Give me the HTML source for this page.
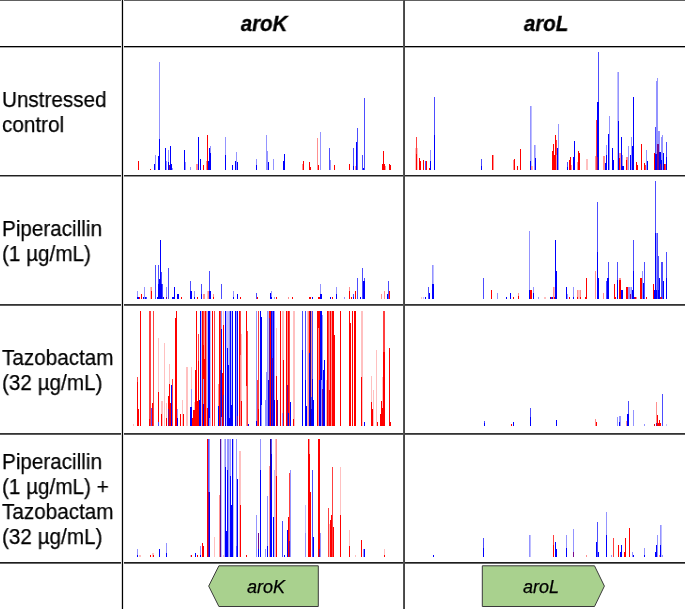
<!DOCTYPE html>
<html><head><meta charset="utf-8">
<style>
html,body{margin:0;padding:0;background:#fff;}
body{width:685px;height:609px;position:relative;overflow:hidden;font-family:"Liberation Sans",sans-serif;}
.h{position:absolute;left:0;width:685px;background:#000;}
.v{position:absolute;width:1px;background:#000;}
.lab{position:absolute;left:2px;font-size:22px;line-height:25px;transform:scaleX(0.94);transform-origin:0 0;color:#000;will-change:transform;-webkit-text-stroke:0.25px #000;white-space:nowrap;}
.hd{position:absolute;top:12px;font-size:22px;will-change:transform;transform:scaleX(0.93);-webkit-text-stroke:0.35px #000;font-weight:bold;font-style:italic;text-align:center;line-height:24px;}
svg{position:absolute;}
</style></head><body>
<!-- grid lines -->
<div class="h" style="top:0;height:1px;background:#606060"></div>
<div class="h" style="top:46px;height:1px;"></div>
<div class="h" style="top:47px;height:1px;background:#a8a8a8"></div>
<div class="h" style="top:175px;height:1px;background:#202020"></div>
<div class="h" style="top:176px;height:1px;background:#959595"></div>
<div class="h" style="top:304px;height:1px;background:#333"></div>
<div class="h" style="top:305px;height:1px;background:#5c5c5c"></div>
<div class="h" style="top:433px;height:1px;background:#333"></div>
<div class="h" style="top:434px;height:1px;background:#5c5c5c"></div>
<div class="h" style="top:562px;height:1px;background:#1e1e1e"></div>
<div class="h" style="top:563px;height:1px;background:#666"></div>
<div class="v" style="left:121px;top:0;height:609px;background:#d4d4d4"></div>
<div class="v" style="left:123px;top:0;height:609px;background:#e4e4e4"></div>
<div class="v" style="left:122px;top:0;height:609px;"></div>
<div class="v" style="left:403px;top:0;height:609px;background:#525252"></div>
<div class="v" style="left:404px;top:0;height:609px;background:#464646"></div>

<div class="hd" style="left:124px;width:280px;">aroK</div>
<div class="hd" style="left:406px;width:280px;">aroL</div>

<div class="lab" style="top:87px;">Unstressed<br>control</div>
<div class="lab" style="top:216px;">Piperacillin<br>(1 µg/mL)</div>
<div class="lab" style="top:345px;">Tazobactam<br>(32 µg/mL)</div>
<div class="lab" style="top:449px;">Piperacillin<br>(1 µg/mL) +<br>Tazobactam<br>(32 µg/mL)</div>

<svg style="left:0;top:0" width="685" height="609" shape-rendering="crispEdges">
<!-- r1k -->
<rect x="138" y="161" width="1" height="9" fill="#ff0000"/>
<rect x="150" y="169" width="1" height="1" fill="#ff0000"/>
<rect x="154" y="164" width="1" height="6" fill="#0000ff"/>
<rect x="155" y="155" width="1" height="15" fill="#9494ff"/>
<rect x="159" y="62" width="1" height="108" fill="#9494ff"/>
<rect x="158" y="156" width="1" height="14" fill="#0000ff"/>
<rect x="159" y="139" width="1" height="31" fill="#0000ff"/>
<rect x="165" y="148" width="1" height="22" fill="#0000ff"/>
<rect x="166" y="161" width="1" height="9" fill="#9494ff"/>
<rect x="168" y="150" width="1" height="20" fill="#9494ff"/>
<rect x="168" y="162" width="1" height="8" fill="#0000ff"/>
<rect x="169" y="165" width="1" height="5" fill="#780a8c"/>
<rect x="170" y="146" width="1" height="24" fill="#0000ff"/>
<rect x="171" y="164" width="1" height="6" fill="#0000ff"/>
<rect x="172" y="168" width="1" height="2" fill="#9494ff"/>
<rect x="184" y="150" width="1" height="20" fill="#0000ff"/>
<rect x="185" y="162" width="1" height="8" fill="#9494ff"/>
<rect x="190" y="167" width="1" height="3" fill="#9494ff"/>
<rect x="196" y="164" width="1" height="6" fill="#ff9090"/>
<rect x="197" y="164" width="1" height="6" fill="#ff9090"/>
<rect x="198" y="137" width="1" height="33" fill="#0000ff"/>
<rect x="200" y="159" width="1" height="11" fill="#0000ff"/>
<rect x="203" y="165" width="1" height="5" fill="#ff0000"/>
<rect x="206" y="161" width="1" height="9" fill="#ff9090"/>
<rect x="207" y="135" width="1" height="35" fill="#ff0000"/>
<rect x="208" y="161" width="1" height="9" fill="#0000ff"/>
<rect x="209" y="148" width="1" height="22" fill="#0000ff"/>
<rect x="210" y="146" width="1" height="24" fill="#9494ff"/>
<rect x="210" y="153" width="1" height="17" fill="#0000ff"/>
<rect x="225" y="137" width="1" height="33" fill="#9494ff"/>
<rect x="225" y="155" width="1" height="15" fill="#0000ff"/>
<rect x="232" y="165" width="1" height="5" fill="#0000ff"/>
<rect x="235" y="161" width="1" height="9" fill="#0000ff"/>
<rect x="236" y="152" width="1" height="18" fill="#9494ff"/>
<rect x="237" y="162" width="1" height="8" fill="#0000ff"/>
<rect x="256" y="159" width="1" height="11" fill="#9494ff"/>
<rect x="256" y="165" width="1" height="5" fill="#0000ff"/>
<rect x="266" y="135" width="1" height="35" fill="#9494ff"/>
<rect x="267" y="151" width="1" height="19" fill="#9494ff"/>
<rect x="268" y="162" width="1" height="8" fill="#0000ff"/>
<rect x="273" y="159" width="1" height="11" fill="#9494ff"/>
<rect x="283" y="161" width="1" height="9" fill="#0000ff"/>
<rect x="284" y="154" width="1" height="16" fill="#0000ff"/>
<rect x="302" y="164" width="1" height="6" fill="#ff9090"/>
<rect x="303" y="161" width="1" height="9" fill="#ff0000"/>
<rect x="309" y="162" width="1" height="8" fill="#ff0000"/>
<rect x="310" y="167" width="1" height="3" fill="#ff0000"/>
<rect x="317" y="138" width="1" height="32" fill="#ff9090"/>
<rect x="318" y="165" width="1" height="5" fill="#ff0000"/>
<rect x="320" y="132" width="1" height="38" fill="#9494ff"/>
<rect x="329" y="148" width="1" height="22" fill="#4d4dff"/>
<rect x="330" y="160" width="1" height="10" fill="#9494ff"/>
<rect x="334" y="165" width="1" height="5" fill="#ff0000"/>
<rect x="349" y="164" width="1" height="6" fill="#ff0000"/>
<rect x="353" y="148" width="1" height="22" fill="#4d4dff"/>
<rect x="353" y="166" width="1" height="4" fill="#0000ff"/>
<rect x="355" y="166" width="1" height="4" fill="#ff9090"/>
<rect x="357" y="128" width="1" height="42" fill="#4d4dff"/>
<rect x="356" y="142" width="1" height="28" fill="#0000ff"/>
<rect x="362" y="155" width="1" height="15" fill="#4d4dff"/>
<rect x="363" y="168" width="1" height="2" fill="#0000ff"/>
<rect x="364" y="98" width="1" height="72" fill="#4d4dff"/>
<rect x="383" y="151" width="1" height="19" fill="#ff0000"/>
<rect x="382" y="164" width="1" height="6" fill="#ff0000"/>
<rect x="384" y="164" width="1" height="6" fill="#ff0000"/>
<rect x="385" y="166" width="1" height="4" fill="#ff9090"/>
<rect x="389" y="164" width="1" height="6" fill="#ff0000"/>
<rect x="390" y="165" width="1" height="5" fill="#ff0000"/>
<!-- r1L -->
<rect x="415" y="148" width="1" height="22" fill="#ffc0c0"/>
<rect x="417" y="148" width="1" height="22" fill="#ffc0c0"/>
<rect x="416" y="137" width="1" height="33" fill="#ff4040"/>
<rect x="416" y="154" width="1" height="16" fill="#ff0000"/>
<rect x="419" y="158" width="1" height="12" fill="#ff0000"/>
<rect x="420" y="161" width="1" height="9" fill="#ff0000"/>
<rect x="423" y="160" width="1" height="10" fill="#ff0000"/>
<rect x="425" y="161" width="1" height="9" fill="#4d4dff"/>
<rect x="426" y="161" width="1" height="9" fill="#ff0000"/>
<rect x="429" y="168" width="1" height="2" fill="#ff0000"/>
<rect x="430" y="150" width="1" height="20" fill="#9494ff"/>
<rect x="430" y="161" width="1" height="9" fill="#0000ff"/>
<rect x="434" y="97" width="1" height="73" fill="#4d4dff"/>
<rect x="434" y="135" width="1" height="35" fill="#0000ff"/>
<rect x="481" y="159" width="1" height="11" fill="#4d4dff"/>
<rect x="481" y="166" width="1" height="4" fill="#0000ff"/>
<rect x="492" y="155" width="1" height="15" fill="#ff0000"/>
<rect x="493" y="155" width="1" height="15" fill="#ff9090"/>
<rect x="513" y="160" width="1" height="10" fill="#ff9090"/>
<rect x="514" y="159" width="1" height="11" fill="#ff0000"/>
<rect x="517" y="166" width="1" height="4" fill="#ff0000"/>
<rect x="520" y="149" width="1" height="21" fill="#ff0000"/>
<rect x="530" y="106" width="1" height="64" fill="#9494ff"/>
<rect x="531" y="106" width="1" height="64" fill="#c0c0ff"/>
<rect x="530" y="161" width="1" height="9" fill="#0000ff"/>
<rect x="531" y="166" width="1" height="4" fill="#ff9090"/>
<rect x="532" y="166" width="1" height="4" fill="#ffc0c0"/>
<rect x="534" y="145" width="1" height="25" fill="#9494ff"/>
<rect x="535" y="145" width="1" height="25" fill="#c0c0ff"/>
<rect x="535" y="158" width="1" height="12" fill="#0000ff"/>
<rect x="552" y="151" width="1" height="19" fill="#ff0000"/>
<rect x="553" y="144" width="1" height="26" fill="#ff0000"/>
<rect x="554" y="155" width="1" height="15" fill="#ff0000"/>
<rect x="555" y="135" width="1" height="35" fill="#ff0000"/>
<rect x="556" y="140" width="1" height="30" fill="#ff4040"/>
<rect x="556" y="155" width="1" height="15" fill="#ff9090"/>
<rect x="558" y="124" width="1" height="46" fill="#9494ff"/>
<rect x="557" y="148" width="1" height="22" fill="#0000ff"/>
<rect x="567" y="162" width="1" height="8" fill="#4d4dff"/>
<rect x="567" y="167" width="1" height="3" fill="#0000ff"/>
<rect x="569" y="160" width="1" height="10" fill="#ff0000"/>
<rect x="570" y="157" width="1" height="13" fill="#ff0000"/>
<rect x="571" y="165" width="1" height="5" fill="#ff9090"/>
<rect x="574" y="141" width="1" height="29" fill="#0000ff"/>
<rect x="573" y="157" width="1" height="13" fill="#0000ff"/>
<rect x="577" y="162" width="1" height="8" fill="#ff9090"/>
<rect x="578" y="151" width="1" height="19" fill="#ff0000"/>
<rect x="579" y="153" width="1" height="17" fill="#ff0000"/>
<rect x="586" y="159" width="1" height="11" fill="#ffc0c0"/>
<rect x="587" y="159" width="1" height="11" fill="#ffc0c0"/>
<rect x="595" y="156" width="1" height="14" fill="#ff9090"/>
<rect x="596" y="120" width="1" height="50" fill="#ff4040"/>
<rect x="598" y="52" width="1" height="118" fill="#4d4dff"/>
<rect x="597" y="102" width="1" height="68" fill="#0000ff"/>
<rect x="598" y="102" width="1" height="68" fill="#0000ff"/>
<rect x="597" y="157" width="1" height="13" fill="#780a8c"/>
<rect x="603" y="156" width="1" height="14" fill="#ff9090"/>
<rect x="604" y="156" width="1" height="14" fill="#ff9090"/>
<rect x="605" y="163" width="1" height="7" fill="#0000ff"/>
<rect x="606" y="145" width="1" height="25" fill="#9494ff"/>
<rect x="606" y="155" width="1" height="15" fill="#0000ff"/>
<rect x="609" y="116" width="1" height="54" fill="#9494ff"/>
<rect x="608" y="134" width="1" height="36" fill="#0000ff"/>
<rect x="612" y="148" width="1" height="22" fill="#0000ff"/>
<rect x="613" y="160" width="1" height="10" fill="#0000ff"/>
<rect x="617" y="72" width="1" height="98" fill="#c0c0ff"/>
<rect x="618" y="72" width="1" height="98" fill="#9494ff"/>
<rect x="618" y="121" width="1" height="49" fill="#0000ff"/>
<rect x="619" y="153" width="1" height="17" fill="#ff9090"/>
<rect x="620" y="153" width="1" height="17" fill="#ff9090"/>
<rect x="619" y="158" width="1" height="12" fill="#ff0000"/>
<rect x="621" y="137" width="1" height="33" fill="#0000ff"/>
<rect x="622" y="155" width="1" height="15" fill="#9494ff"/>
<rect x="622" y="166" width="1" height="4" fill="#0000ff"/>
<rect x="623" y="166" width="1" height="4" fill="#0000ff"/>
<rect x="626" y="157" width="1" height="13" fill="#ff9090"/>
<rect x="627" y="157" width="1" height="13" fill="#ff9090"/>
<rect x="626" y="160" width="1" height="10" fill="#ff0000"/>
<rect x="628" y="146" width="1" height="24" fill="#9494ff"/>
<rect x="631" y="137" width="1" height="33" fill="#9494ff"/>
<rect x="630" y="155" width="1" height="15" fill="#0000ff"/>
<rect x="632" y="146" width="1" height="24" fill="#0000ff"/>
<rect x="633" y="97" width="1" height="73" fill="#0000ff"/>
<rect x="636" y="162" width="1" height="8" fill="#ff0000"/>
<rect x="637" y="165" width="1" height="5" fill="#ff0000"/>
<rect x="641" y="144" width="1" height="26" fill="#ff0000"/>
<rect x="644" y="163" width="1" height="7" fill="#ff0000"/>
<rect x="645" y="165" width="1" height="5" fill="#ff4040"/>
<rect x="646" y="150" width="1" height="20" fill="#9494ff"/>
<rect x="647" y="161" width="1" height="9" fill="#0000ff"/>
<rect x="654" y="153" width="1" height="17" fill="#ff0000"/>
<rect x="655" y="127" width="1" height="43" fill="#4d4dff"/>
<rect x="656" y="81" width="1" height="89" fill="#9494ff"/>
<rect x="657" y="78" width="1" height="92" fill="#9494ff"/>
<rect x="658" y="131" width="1" height="39" fill="#9494ff"/>
<rect x="655" y="154" width="1" height="16" fill="#0000ff"/>
<rect x="656" y="154" width="1" height="16" fill="#0000ff"/>
<rect x="657" y="144" width="1" height="26" fill="#780a8c"/>
<rect x="658" y="144" width="1" height="26" fill="#780a8c"/>
<rect x="659" y="131" width="1" height="39" fill="#9494ff"/>
<rect x="659" y="152" width="1" height="18" fill="#0000ff"/>
<rect x="660" y="152" width="1" height="18" fill="#0000ff"/>
<rect x="660" y="164" width="1" height="6" fill="#780a8c"/>
<rect x="661" y="137" width="1" height="33" fill="#9494ff"/>
<rect x="662" y="135" width="1" height="35" fill="#9494ff"/>
<rect x="661" y="160" width="1" height="10" fill="#0000ff"/>
<rect x="663" y="153" width="1" height="17" fill="#0000ff"/>
<rect x="664" y="164" width="1" height="6" fill="#ff0000"/>
<rect x="665" y="164" width="1" height="6" fill="#ff4040"/>
<rect x="666" y="142" width="1" height="28" fill="#4d4dff"/>
<rect x="666" y="157" width="1" height="13" fill="#0000ff"/>
<!-- r2k -->
<rect x="137" y="291" width="1" height="8" fill="#9494ff"/>
<rect x="137" y="297" width="1" height="2" fill="#0000ff"/>
<rect x="138" y="297" width="1" height="2" fill="#0000ff"/>
<rect x="139" y="297" width="1" height="2" fill="#ff0000"/>
<rect x="141" y="294" width="1" height="5" fill="#ff0000"/>
<rect x="144" y="287" width="1" height="12" fill="#9494ff"/>
<rect x="143" y="297" width="1" height="2" fill="#0000ff"/>
<rect x="145" y="297" width="1" height="2" fill="#0000ff"/>
<rect x="146" y="297" width="1" height="2" fill="#4d4dff"/>
<rect x="150" y="287" width="1" height="12" fill="#ffc0c0"/>
<rect x="151" y="287" width="1" height="12" fill="#ff9090"/>
<rect x="151" y="291" width="1" height="8" fill="#ff0000"/>
<rect x="155" y="265" width="1" height="34" fill="#4d4dff"/>
<rect x="158" y="265" width="1" height="34" fill="#4d4dff"/>
<rect x="160" y="240" width="1" height="59" fill="#0000ff"/>
<rect x="161" y="272" width="1" height="27" fill="#4d4dff"/>
<rect x="159" y="279" width="1" height="20" fill="#0000ff"/>
<rect x="158" y="284" width="1" height="15" fill="#0000ff"/>
<rect x="161" y="284" width="1" height="15" fill="#0000ff"/>
<rect x="162" y="284" width="1" height="15" fill="#4d4dff"/>
<rect x="157" y="297" width="1" height="2" fill="#0000ff"/>
<rect x="163" y="297" width="1" height="2" fill="#0000ff"/>
<rect x="166" y="287" width="1" height="12" fill="#9494ff"/>
<rect x="166" y="297" width="1" height="2" fill="#780a8c"/>
<rect x="168" y="268" width="1" height="31" fill="#4d4dff"/>
<rect x="172" y="297" width="1" height="2" fill="#0000ff"/>
<rect x="173" y="297" width="1" height="2" fill="#0000ff"/>
<rect x="174" y="287" width="1" height="12" fill="#0000ff"/>
<rect x="177" y="294" width="1" height="5" fill="#0000ff"/>
<rect x="178" y="294" width="1" height="5" fill="#0000ff"/>
<rect x="181" y="297" width="1" height="2" fill="#ff0000"/>
<rect x="190" y="281" width="1" height="18" fill="#4d4dff"/>
<rect x="190" y="291" width="1" height="8" fill="#0000ff"/>
<rect x="191" y="291" width="1" height="8" fill="#0000ff"/>
<rect x="194" y="291" width="1" height="8" fill="#9494ff"/>
<rect x="194" y="297" width="1" height="2" fill="#0000ff"/>
<rect x="197" y="297" width="1" height="2" fill="#ff0000"/>
<rect x="201" y="284" width="1" height="15" fill="#4d4dff"/>
<rect x="201" y="294" width="1" height="5" fill="#0000ff"/>
<rect x="203" y="294" width="1" height="5" fill="#ff9090"/>
<rect x="204" y="294" width="1" height="5" fill="#ff9090"/>
<rect x="207" y="291" width="1" height="8" fill="#ffc0c0"/>
<rect x="208" y="291" width="1" height="8" fill="#ff9090"/>
<rect x="209" y="271" width="1" height="28" fill="#4d4dff"/>
<rect x="209" y="291" width="1" height="8" fill="#0000ff"/>
<rect x="210" y="291" width="1" height="8" fill="#0000ff"/>
<rect x="213" y="294" width="1" height="5" fill="#ff9090"/>
<rect x="213" y="297" width="1" height="2" fill="#ff0000"/>
<rect x="221" y="284" width="1" height="15" fill="#4d4dff"/>
<rect x="233" y="291" width="1" height="8" fill="#9494ff"/>
<rect x="233" y="297" width="1" height="2" fill="#0000ff"/>
<rect x="237" y="294" width="1" height="5" fill="#0000ff"/>
<rect x="240" y="297" width="1" height="2" fill="#ff0000"/>
<rect x="256" y="293" width="1" height="6" fill="#4d4dff"/>
<rect x="257" y="297" width="1" height="2" fill="#ff0000"/>
<rect x="270" y="293" width="1" height="6" fill="#0000ff"/>
<rect x="271" y="291" width="1" height="8" fill="#9494ff"/>
<rect x="271" y="297" width="1" height="2" fill="#0000ff"/>
<rect x="274" y="297" width="1" height="2" fill="#9494ff"/>
<rect x="276" y="297" width="1" height="2" fill="#ff0000"/>
<rect x="288" y="297" width="1" height="2" fill="#ff9090"/>
<rect x="292" y="297" width="1" height="2" fill="#ff0000"/>
<rect x="309" y="297" width="1" height="2" fill="#ff0000"/>
<rect x="310" y="297" width="1" height="2" fill="#ff0000"/>
<rect x="312" y="297" width="1" height="2" fill="#0000ff"/>
<rect x="318" y="297" width="1" height="2" fill="#ff0000"/>
<rect x="319" y="297" width="1" height="2" fill="#ff0000"/>
<rect x="320" y="284" width="1" height="15" fill="#9494ff"/>
<rect x="320" y="294" width="1" height="5" fill="#0000ff"/>
<rect x="321" y="294" width="1" height="5" fill="#0000ff"/>
<rect x="330" y="297" width="1" height="2" fill="#0000ff"/>
<rect x="332" y="297" width="1" height="2" fill="#ff0000"/>
<rect x="336" y="287" width="1" height="12" fill="#9494ff"/>
<rect x="336" y="294" width="1" height="5" fill="#0000ff"/>
<rect x="344" y="297" width="1" height="2" fill="#9494ff"/>
<rect x="349" y="287" width="1" height="12" fill="#ff9090"/>
<rect x="349" y="291" width="1" height="8" fill="#ff0000"/>
<rect x="351" y="297" width="1" height="2" fill="#ff0000"/>
<rect x="353" y="294" width="1" height="5" fill="#4d4dff"/>
<rect x="353" y="297" width="1" height="2" fill="#0000ff"/>
<rect x="355" y="291" width="1" height="8" fill="#ff0000"/>
<rect x="357" y="278" width="1" height="21" fill="#4d4dff"/>
<rect x="360" y="297" width="1" height="2" fill="#0000ff"/>
<rect x="362" y="268" width="1" height="31" fill="#4d4dff"/>
<rect x="364" y="278" width="1" height="21" fill="#4d4dff"/>
<rect x="363" y="281" width="1" height="18" fill="#0000ff"/>
<rect x="364" y="281" width="1" height="18" fill="#0000ff"/>
<rect x="381" y="294" width="1" height="5" fill="#ff9090"/>
<rect x="384" y="291" width="1" height="8" fill="#ff9090"/>
<rect x="388" y="281" width="1" height="18" fill="#4d4dff"/>
<rect x="387" y="294" width="1" height="5" fill="#0000ff"/>
<rect x="389" y="291" width="1" height="8" fill="#ff0000"/>
<!-- r2L -->
<rect x="421" y="297" width="1" height="2" fill="#ffc0c0"/>
<rect x="423" y="297" width="1" height="2" fill="#c0c0ff"/>
<rect x="425" y="297" width="1" height="2" fill="#0000ff"/>
<rect x="428" y="287" width="1" height="12" fill="#4d4dff"/>
<rect x="429" y="293" width="1" height="6" fill="#0000ff"/>
<rect x="432" y="265" width="1" height="34" fill="#9494ff"/>
<rect x="433" y="265" width="1" height="34" fill="#c0c0ff"/>
<rect x="432" y="284" width="1" height="15" fill="#0000ff"/>
<rect x="433" y="284" width="1" height="15" fill="#0000ff"/>
<rect x="483" y="278" width="1" height="21" fill="#4d4dff"/>
<rect x="491" y="290" width="1" height="9" fill="#ff0000"/>
<rect x="497" y="293" width="1" height="6" fill="#9494ff"/>
<rect x="506" y="297" width="1" height="2" fill="#0000ff"/>
<rect x="510" y="293" width="1" height="6" fill="#0000ff"/>
<rect x="513" y="297" width="1" height="2" fill="#ff0000"/>
<rect x="518" y="293" width="1" height="6" fill="#ff9090"/>
<rect x="518" y="296" width="1" height="3" fill="#ff0000"/>
<rect x="529" y="231" width="1" height="68" fill="#9494ff"/>
<rect x="529" y="290" width="1" height="9" fill="#0000ff"/>
<rect x="530" y="290" width="1" height="9" fill="#ff0000"/>
<rect x="531" y="290" width="1" height="9" fill="#ff0000"/>
<rect x="533" y="287" width="1" height="12" fill="#9494ff"/>
<rect x="533" y="293" width="1" height="6" fill="#0000ff"/>
<rect x="538" y="297" width="1" height="2" fill="#9494ff"/>
<rect x="544" y="297" width="1" height="2" fill="#ffc0c0"/>
<rect x="545" y="297" width="1" height="2" fill="#ffc0c0"/>
<rect x="550" y="297" width="1" height="2" fill="#0000ff"/>
<rect x="551" y="297" width="1" height="2" fill="#ff0000"/>
<rect x="552" y="297" width="1" height="2" fill="#0000ff"/>
<rect x="553" y="287" width="1" height="12" fill="#ff9090"/>
<rect x="554" y="287" width="1" height="12" fill="#ffc0c0"/>
<rect x="554" y="297" width="1" height="2" fill="#ff0000"/>
<rect x="555" y="240" width="1" height="59" fill="#0000ff"/>
<rect x="556" y="271" width="1" height="28" fill="#0000ff"/>
<rect x="566" y="287" width="1" height="12" fill="#0000ff"/>
<rect x="567" y="294" width="1" height="5" fill="#9494ff"/>
<rect x="569" y="297" width="1" height="2" fill="#ff0000"/>
<rect x="573" y="287" width="1" height="12" fill="#9494ff"/>
<rect x="573" y="297" width="1" height="2" fill="#0000ff"/>
<rect x="577" y="290" width="1" height="9" fill="#ff9090"/>
<rect x="578" y="290" width="1" height="9" fill="#ffc0c0"/>
<rect x="579" y="290" width="1" height="9" fill="#ffc0c0"/>
<rect x="580" y="290" width="1" height="9" fill="#ff9090"/>
<rect x="577" y="297" width="1" height="2" fill="#ff0000"/>
<rect x="580" y="297" width="1" height="2" fill="#ff0000"/>
<rect x="585" y="297" width="1" height="2" fill="#ff0000"/>
<rect x="586" y="278" width="1" height="21" fill="#ff0000"/>
<rect x="595" y="271" width="1" height="28" fill="#ff9090"/>
<rect x="597" y="202" width="1" height="97" fill="#4d4dff"/>
<rect x="597" y="252" width="1" height="47" fill="#0000ff"/>
<rect x="598" y="278" width="1" height="21" fill="#0000ff"/>
<rect x="603" y="293" width="1" height="6" fill="#ff9090"/>
<rect x="606" y="281" width="1" height="18" fill="#4d4dff"/>
<rect x="608" y="262" width="1" height="37" fill="#4d4dff"/>
<rect x="607" y="278" width="1" height="21" fill="#0000ff"/>
<rect x="608" y="278" width="1" height="21" fill="#0000ff"/>
<rect x="614" y="284" width="1" height="15" fill="#ff0000"/>
<rect x="615" y="297" width="1" height="2" fill="#ff0000"/>
<rect x="617" y="262" width="1" height="37" fill="#4d4dff"/>
<rect x="617" y="280" width="1" height="19" fill="#0000ff"/>
<rect x="619" y="278" width="1" height="21" fill="#ff9090"/>
<rect x="620" y="278" width="1" height="21" fill="#ff9090"/>
<rect x="619" y="280" width="1" height="19" fill="#ff0000"/>
<rect x="620" y="280" width="1" height="19" fill="#ff0000"/>
<rect x="621" y="290" width="1" height="9" fill="#0000ff"/>
<rect x="622" y="290" width="1" height="9" fill="#0000ff"/>
<rect x="626" y="287" width="1" height="12" fill="#ff0000"/>
<rect x="627" y="287" width="1" height="12" fill="#ff0000"/>
<rect x="628" y="287" width="1" height="12" fill="#9494ff"/>
<rect x="629" y="287" width="1" height="12" fill="#9494ff"/>
<rect x="630" y="287" width="1" height="12" fill="#c0c0ff"/>
<rect x="631" y="287" width="1" height="12" fill="#9494ff"/>
<rect x="630" y="294" width="1" height="5" fill="#780a8c"/>
<rect x="633" y="240" width="1" height="59" fill="#4d4dff"/>
<rect x="633" y="271" width="1" height="28" fill="#0000ff"/>
<rect x="632" y="290" width="1" height="9" fill="#0000ff"/>
<rect x="634" y="297" width="1" height="2" fill="#780a8c"/>
<rect x="635" y="297" width="1" height="2" fill="#ff0000"/>
<rect x="636" y="297" width="1" height="2" fill="#ff9090"/>
<rect x="640" y="278" width="1" height="21" fill="#ff0000"/>
<rect x="641" y="278" width="1" height="21" fill="#ff0000"/>
<rect x="642" y="271" width="1" height="28" fill="#9494ff"/>
<rect x="644" y="262" width="1" height="37" fill="#4d4dff"/>
<rect x="643" y="283" width="1" height="16" fill="#0000ff"/>
<rect x="646" y="297" width="1" height="2" fill="#ff0000"/>
<rect x="653" y="284" width="1" height="15" fill="#ff0000"/>
<rect x="655" y="181" width="1" height="118" fill="#4d4dff"/>
<rect x="655" y="233" width="1" height="66" fill="#0000ff"/>
<rect x="656" y="233" width="1" height="66" fill="#9494ff"/>
<rect x="657" y="233" width="1" height="66" fill="#4d4dff"/>
<rect x="658" y="256" width="1" height="43" fill="#4d4dff"/>
<rect x="659" y="278" width="1" height="21" fill="#0000ff"/>
<rect x="654" y="290" width="1" height="9" fill="#0000ff"/>
<rect x="656" y="290" width="1" height="9" fill="#0000ff"/>
<rect x="658" y="290" width="1" height="9" fill="#0000ff"/>
<rect x="661" y="262" width="1" height="37" fill="#4d4dff"/>
<rect x="662" y="262" width="1" height="37" fill="#4d4dff"/>
<rect x="663" y="281" width="1" height="18" fill="#0000ff"/>
<rect x="660" y="297" width="1" height="2" fill="#780a8c"/>
<rect x="661" y="297" width="1" height="2" fill="#ff0000"/>
<rect x="666" y="252" width="1" height="47" fill="#4d4dff"/>
<rect x="666" y="278" width="1" height="21" fill="#0000ff"/>
<!-- r3k -->
<rect x="133" y="424" width="1" height="2" fill="#ffc0c0"/>
<rect x="137" y="377" width="1" height="49" fill="#ff4040"/>
<rect x="137" y="382" width="1" height="44" fill="#ff0000"/>
<rect x="138" y="409" width="1" height="17" fill="#ff0000"/>
<rect x="140" y="311" width="1" height="115" fill="#ff0000"/>
<rect x="149" y="311" width="1" height="115" fill="#ff4040"/>
<rect x="150" y="311" width="1" height="115" fill="#ff4040"/>
<rect x="149" y="419" width="1" height="7" fill="#ff0000"/>
<rect x="151" y="408" width="1" height="18" fill="#4d4dff"/>
<rect x="153" y="311" width="1" height="115" fill="#ff4040"/>
<rect x="152" y="403" width="1" height="23" fill="#ff0000"/>
<rect x="158" y="338" width="1" height="88" fill="#ffc0c0"/>
<rect x="158" y="392" width="1" height="34" fill="#ff0000"/>
<rect x="158" y="422" width="1" height="4" fill="#4d4dff"/>
<rect x="161" y="401" width="1" height="25" fill="#ffc0c0"/>
<rect x="162" y="401" width="1" height="25" fill="#ffc0c0"/>
<rect x="161" y="414" width="1" height="12" fill="#ff0000"/>
<rect x="164" y="343" width="1" height="83" fill="#ffc0c0"/>
<rect x="166" y="403" width="1" height="23" fill="#ffc0c0"/>
<rect x="166" y="418" width="1" height="8" fill="#ff0000"/>
<rect x="169" y="364" width="1" height="62" fill="#ffc0c0"/>
<rect x="168" y="396" width="1" height="30" fill="#ff0000"/>
<rect x="168" y="409" width="1" height="17" fill="#780a8c"/>
<rect x="169" y="384" width="1" height="42" fill="#ff0000"/>
<rect x="170" y="403" width="1" height="23" fill="#ff0000"/>
<rect x="171" y="385" width="1" height="41" fill="#0000ff"/>
<rect x="172" y="379" width="1" height="47" fill="#ff4040"/>
<rect x="175" y="318" width="1" height="108" fill="#ff0000"/>
<rect x="176" y="311" width="1" height="115" fill="#ff0000"/>
<rect x="177" y="409" width="1" height="17" fill="#9494ff"/>
<rect x="177" y="418" width="1" height="8" fill="#0000ff"/>
<rect x="180" y="414" width="1" height="12" fill="#ff0000"/>
<rect x="182" y="400" width="1" height="26" fill="#ffc0c0"/>
<rect x="183" y="414" width="1" height="12" fill="#ff0000"/>
<rect x="186" y="367" width="1" height="59" fill="#ffc0c0"/>
<rect x="187" y="367" width="1" height="59" fill="#ffc0c0"/>
<rect x="191" y="367" width="1" height="59" fill="#ffc0c0"/>
<rect x="191" y="389" width="1" height="37" fill="#9494ff"/>
<rect x="190" y="407" width="1" height="19" fill="#0000ff"/>
<rect x="191" y="407" width="1" height="19" fill="#0000ff"/>
<rect x="192" y="418" width="1" height="8" fill="#ff0000"/>
<rect x="193" y="410" width="1" height="16" fill="#ff0000"/>
<rect x="194" y="402" width="1" height="24" fill="#ffc0c0"/>
<rect x="194" y="410" width="1" height="16" fill="#ff0000"/>
<rect x="195" y="370" width="1" height="56" fill="#ff0000"/>
<rect x="196" y="311" width="1" height="115" fill="#ff0000"/>
<rect x="198" y="334" width="1" height="92" fill="#ff4040"/>
<rect x="197" y="401" width="1" height="25" fill="#ff0000"/>
<rect x="198" y="361" width="1" height="65" fill="#ff0000"/>
<rect x="199" y="400" width="1" height="26" fill="#0000ff"/>
<rect x="200" y="311" width="1" height="115" fill="#0000ff"/>
<rect x="201" y="311" width="1" height="115" fill="#c0c0ff"/>
<rect x="202" y="311" width="1" height="115" fill="#ff0000"/>
<rect x="203" y="311" width="1" height="115" fill="#ff4040"/>
<rect x="203" y="345" width="1" height="81" fill="#ff0000"/>
<rect x="203" y="379" width="1" height="47" fill="#9494ff"/>
<rect x="203" y="404" width="1" height="22" fill="#0000ff"/>
<rect x="204" y="311" width="1" height="115" fill="#ff9090"/>
<rect x="204" y="359" width="1" height="67" fill="#ff0000"/>
<rect x="205" y="311" width="1" height="115" fill="#ff0000"/>
<rect x="206" y="311" width="1" height="115" fill="#ff9090"/>
<rect x="207" y="311" width="1" height="115" fill="#c0c0ff"/>
<rect x="207" y="408" width="1" height="18" fill="#ff0000"/>
<rect x="208" y="311" width="1" height="115" fill="#0000ff"/>
<rect x="209" y="311" width="1" height="115" fill="#0000ff"/>
<rect x="209" y="418" width="1" height="8" fill="#9494ff"/>
<rect x="210" y="311" width="1" height="115" fill="#c0c0ff"/>
<rect x="212" y="311" width="1" height="115" fill="#ff0000"/>
<rect x="214" y="311" width="1" height="115" fill="#ff4040"/>
<rect x="218" y="384" width="1" height="42" fill="#ff9090"/>
<rect x="218" y="406" width="1" height="20" fill="#0000ff"/>
<rect x="219" y="311" width="1" height="115" fill="#ff0000"/>
<rect x="220" y="311" width="1" height="115" fill="#ff4040"/>
<rect x="220" y="370" width="1" height="56" fill="#780a8c"/>
<rect x="221" y="311" width="1" height="115" fill="#9494ff"/>
<rect x="221" y="329" width="1" height="97" fill="#0000ff"/>
<rect x="221" y="417" width="1" height="9" fill="#9494ff"/>
<rect x="222" y="373" width="1" height="53" fill="#ff0000"/>
<rect x="223" y="311" width="1" height="115" fill="#ffc0c0"/>
<rect x="223" y="325" width="1" height="101" fill="#ff0000"/>
<rect x="223" y="395" width="1" height="31" fill="#780a8c"/>
<rect x="225" y="311" width="1" height="115" fill="#0000ff"/>
<rect x="226" y="311" width="1" height="115" fill="#c0c0ff"/>
<rect x="227" y="311" width="1" height="115" fill="#c0c0ff"/>
<rect x="227" y="348" width="1" height="78" fill="#0000ff"/>
<rect x="228" y="311" width="1" height="115" fill="#c0c0ff"/>
<rect x="228" y="365" width="1" height="61" fill="#0000ff"/>
<rect x="229" y="311" width="1" height="115" fill="#9494ff"/>
<rect x="229" y="418" width="1" height="8" fill="#0000ff"/>
<rect x="230" y="311" width="1" height="115" fill="#0000ff"/>
<rect x="231" y="311" width="1" height="115" fill="#c0c0ff"/>
<rect x="231" y="405" width="1" height="21" fill="#0000ff"/>
<rect x="232" y="311" width="1" height="115" fill="#0000ff"/>
<rect x="235" y="311" width="1" height="115" fill="#0000ff"/>
<rect x="236" y="311" width="1" height="115" fill="#9494ff"/>
<rect x="237" y="311" width="1" height="115" fill="#0000ff"/>
<rect x="237" y="416" width="1" height="10" fill="#780a8c"/>
<rect x="239" y="311" width="1" height="115" fill="#ff0000"/>
<rect x="240" y="311" width="1" height="115" fill="#ff4040"/>
<rect x="240" y="355" width="1" height="71" fill="#ff9090"/>
<rect x="241" y="334" width="1" height="92" fill="#ffc0c0"/>
<rect x="241" y="401" width="1" height="25" fill="#ff0000"/>
<rect x="246" y="311" width="1" height="115" fill="#ff0000"/>
<rect x="246" y="386" width="1" height="40" fill="#ff9090"/>
<rect x="247" y="331" width="1" height="95" fill="#ff4040"/>
<rect x="248" y="424" width="1" height="2" fill="#0000ff"/>
<rect x="256" y="311" width="1" height="115" fill="#9494ff"/>
<rect x="256" y="421" width="1" height="5" fill="#0000ff"/>
<rect x="257" y="380" width="1" height="46" fill="#ff4040"/>
<rect x="258" y="311" width="1" height="115" fill="#ff4040"/>
<rect x="258" y="409" width="1" height="17" fill="#ff0000"/>
<rect x="260" y="311" width="1" height="115" fill="#0000ff"/>
<rect x="261" y="317" width="1" height="109" fill="#0000ff"/>
<rect x="261" y="405" width="1" height="21" fill="#9494ff"/>
<rect x="265" y="400" width="1" height="26" fill="#9494ff"/>
<rect x="266" y="372" width="1" height="54" fill="#9494ff"/>
<rect x="267" y="311" width="1" height="115" fill="#9494ff"/>
<rect x="268" y="311" width="1" height="115" fill="#c0c0ff"/>
<rect x="268" y="380" width="1" height="46" fill="#0000ff"/>
<rect x="269" y="311" width="1" height="115" fill="#ff0000"/>
<rect x="269" y="318" width="1" height="108" fill="#780a8c"/>
<rect x="270" y="311" width="1" height="115" fill="#ff0000"/>
<rect x="271" y="311" width="1" height="115" fill="#0000ff"/>
<rect x="272" y="311" width="1" height="115" fill="#4d4dff"/>
<rect x="272" y="358" width="1" height="68" fill="#780a8c"/>
<rect x="273" y="311" width="1" height="115" fill="#0000ff"/>
<rect x="274" y="400" width="1" height="26" fill="#0000ff"/>
<rect x="274" y="311" width="1" height="115" fill="#9494ff"/>
<rect x="274" y="400" width="1" height="26" fill="#0000ff"/>
<rect x="276" y="328" width="1" height="98" fill="#ffc0c0"/>
<rect x="276" y="376" width="1" height="50" fill="#ff0000"/>
<rect x="277" y="400" width="1" height="26" fill="#780a8c"/>
<rect x="280" y="311" width="1" height="115" fill="#ff0000"/>
<rect x="282" y="311" width="1" height="115" fill="#ffc0c0"/>
<rect x="283" y="311" width="1" height="115" fill="#ffc0c0"/>
<rect x="282" y="413" width="1" height="13" fill="#9494ff"/>
<rect x="283" y="360" width="1" height="66" fill="#ff0000"/>
<rect x="286" y="311" width="1" height="115" fill="#ff0000"/>
<rect x="287" y="311" width="1" height="115" fill="#ff9090"/>
<rect x="287" y="385" width="1" height="41" fill="#780a8c"/>
<rect x="288" y="311" width="1" height="115" fill="#ff0000"/>
<rect x="289" y="311" width="1" height="115" fill="#ff4040"/>
<rect x="288" y="413" width="1" height="13" fill="#0000ff"/>
<rect x="290" y="402" width="1" height="24" fill="#0000ff"/>
<rect x="293" y="311" width="1" height="115" fill="#ffc0c0"/>
<rect x="294" y="311" width="1" height="115" fill="#ffc0c0"/>
<rect x="293" y="419" width="1" height="7" fill="#ff0000"/>
<rect x="302" y="311" width="1" height="115" fill="#4d4dff"/>
<rect x="302" y="350" width="1" height="76" fill="#0000ff"/>
<rect x="305" y="311" width="1" height="115" fill="#4d4dff"/>
<rect x="305" y="380" width="1" height="46" fill="#0000ff"/>
<rect x="306" y="406" width="1" height="20" fill="#0000ff"/>
<rect x="307" y="311" width="1" height="115" fill="#ffc0c0"/>
<rect x="308" y="311" width="1" height="115" fill="#ff9090"/>
<rect x="309" y="311" width="1" height="115" fill="#ff0000"/>
<rect x="309" y="353" width="1" height="73" fill="#0000ff"/>
<rect x="310" y="311" width="1" height="115" fill="#2a0090"/>
<rect x="311" y="311" width="1" height="115" fill="#ff9090"/>
<rect x="311" y="397" width="1" height="29" fill="#4d4dff"/>
<rect x="311" y="409" width="1" height="17" fill="#0000ff"/>
<rect x="312" y="311" width="1" height="115" fill="#4d4dff"/>
<rect x="312" y="379" width="1" height="47" fill="#0000ff"/>
<rect x="313" y="400" width="1" height="26" fill="#0000ff"/>
<rect x="317" y="311" width="1" height="115" fill="#ff0000"/>
<rect x="318" y="311" width="1" height="115" fill="#ff0000"/>
<rect x="318" y="328" width="1" height="98" fill="#ff9090"/>
<rect x="319" y="311" width="1" height="115" fill="#ff0000"/>
<rect x="319" y="380" width="1" height="46" fill="#0000ff"/>
<rect x="320" y="311" width="1" height="115" fill="#0000ff"/>
<rect x="321" y="311" width="1" height="115" fill="#0000ff"/>
<rect x="321" y="380" width="1" height="46" fill="#9494ff"/>
<rect x="322" y="315" width="1" height="111" fill="#9494ff"/>
<rect x="322" y="389" width="1" height="37" fill="#780a8c"/>
<rect x="323" y="370" width="1" height="56" fill="#0000ff"/>
<rect x="324" y="360" width="1" height="66" fill="#0000ff"/>
<rect x="326" y="380" width="1" height="46" fill="#ffc0c0"/>
<rect x="327" y="311" width="1" height="115" fill="#ff0000"/>
<rect x="328" y="311" width="1" height="115" fill="#ff4040"/>
<rect x="329" y="311" width="1" height="115" fill="#ff9090"/>
<rect x="330" y="311" width="1" height="115" fill="#ff0000"/>
<rect x="331" y="311" width="1" height="115" fill="#ff9090"/>
<rect x="332" y="311" width="1" height="115" fill="#ff0000"/>
<rect x="333" y="311" width="1" height="115" fill="#ff0000"/>
<rect x="334" y="335" width="1" height="91" fill="#ff0000"/>
<rect x="329" y="390" width="1" height="36" fill="#ff0000"/>
<rect x="340" y="311" width="1" height="115" fill="#ff0000"/>
<rect x="349" y="311" width="1" height="115" fill="#ff0000"/>
<rect x="350" y="323" width="1" height="103" fill="#ff0000"/>
<rect x="352" y="311" width="1" height="115" fill="#ff0000"/>
<rect x="354" y="311" width="1" height="115" fill="#ff0000"/>
<rect x="355" y="311" width="1" height="115" fill="#ff0000"/>
<rect x="361" y="311" width="1" height="115" fill="#ffc0c0"/>
<rect x="362" y="311" width="1" height="115" fill="#ffc0c0"/>
<rect x="361" y="377" width="1" height="49" fill="#ff0000"/>
<rect x="364" y="422" width="1" height="4" fill="#0000ff"/>
<rect x="371" y="376" width="1" height="50" fill="#ffc0c0"/>
<rect x="371" y="402" width="1" height="24" fill="#ff0000"/>
<rect x="372" y="409" width="1" height="17" fill="#ff0000"/>
<rect x="373" y="390" width="1" height="36" fill="#ffc0c0"/>
<rect x="376" y="350" width="1" height="76" fill="#ffc0c0"/>
<rect x="377" y="422" width="1" height="4" fill="#ff0000"/>
<rect x="380" y="414" width="1" height="12" fill="#ff0000"/>
<rect x="381" y="401" width="1" height="25" fill="#ff0000"/>
<rect x="382" y="377" width="1" height="49" fill="#ffc0c0"/>
<rect x="382" y="408" width="1" height="18" fill="#ff0000"/>
<rect x="383" y="311" width="1" height="115" fill="#ff4040"/>
<rect x="384" y="311" width="1" height="115" fill="#ff4040"/>
<rect x="383" y="352" width="1" height="74" fill="#ff0000"/>
<rect x="384" y="352" width="1" height="74" fill="#ff0000"/>
<rect x="389" y="348" width="1" height="78" fill="#ff0000"/>
<rect x="390" y="422" width="1" height="4" fill="#ff0000"/>
<!-- r3L -->
<rect x="484" y="421" width="1" height="5" fill="#4d4dff"/>
<rect x="484" y="423" width="1" height="3" fill="#0000ff"/>
<rect x="511" y="424" width="1" height="2" fill="#ff0000"/>
<rect x="513" y="422" width="1" height="4" fill="#0000ff"/>
<rect x="530" y="408" width="1" height="18" fill="#4d4dff"/>
<rect x="530" y="417" width="1" height="9" fill="#0000ff"/>
<rect x="556" y="420" width="1" height="6" fill="#0000ff"/>
<rect x="595" y="419" width="1" height="7" fill="#ff9090"/>
<rect x="596" y="422" width="1" height="4" fill="#ff0000"/>
<rect x="617" y="417" width="1" height="9" fill="#9494ff"/>
<rect x="619" y="416" width="1" height="10" fill="#9494ff"/>
<rect x="620" y="416" width="1" height="10" fill="#9494ff"/>
<rect x="619" y="422" width="1" height="4" fill="#0000ff"/>
<rect x="626" y="421" width="1" height="5" fill="#ff9090"/>
<rect x="628" y="401" width="1" height="25" fill="#4d4dff"/>
<rect x="627" y="414" width="1" height="12" fill="#0000ff"/>
<rect x="628" y="414" width="1" height="12" fill="#0000ff"/>
<rect x="633" y="410" width="1" height="16" fill="#9494ff"/>
<rect x="644" y="424" width="1" height="2" fill="#9494ff"/>
<rect x="654" y="424" width="1" height="2" fill="#ff0000"/>
<rect x="656" y="402" width="1" height="24" fill="#ff9090"/>
<rect x="657" y="415" width="1" height="11" fill="#ff0000"/>
<rect x="656" y="423" width="1" height="3" fill="#780a8c"/>
<rect x="658" y="423" width="1" height="3" fill="#ff0000"/>
<rect x="659" y="420" width="1" height="6" fill="#ff0000"/>
<rect x="660" y="423" width="1" height="3" fill="#ff0000"/>
<rect x="662" y="394" width="1" height="32" fill="#4d4dff"/>
<rect x="666" y="424" width="1" height="2" fill="#c0c0ff"/>
<!-- r4k -->
<rect x="137" y="549" width="1" height="8" fill="#9494ff"/>
<rect x="137" y="555" width="1" height="2" fill="#0000ff"/>
<rect x="139" y="555" width="1" height="2" fill="#ffc0c0"/>
<rect x="140" y="555" width="1" height="2" fill="#ffc0c0"/>
<rect x="150" y="555" width="1" height="2" fill="#ff0000"/>
<rect x="152" y="553" width="1" height="4" fill="#ffc0c0"/>
<rect x="153" y="553" width="1" height="4" fill="#ffc0c0"/>
<rect x="153" y="555" width="1" height="2" fill="#ff0000"/>
<rect x="159" y="549" width="1" height="8" fill="#0000ff"/>
<rect x="166" y="543" width="1" height="14" fill="#9494ff"/>
<rect x="166" y="553" width="1" height="4" fill="#0000ff"/>
<rect x="190" y="555" width="1" height="2" fill="#c0c0ff"/>
<rect x="191" y="555" width="1" height="2" fill="#ff0000"/>
<rect x="195" y="553" width="1" height="4" fill="#0000ff"/>
<rect x="197" y="555" width="1" height="2" fill="#ff0000"/>
<rect x="200" y="546" width="1" height="11" fill="#9494ff"/>
<rect x="200" y="555" width="1" height="2" fill="#0000ff"/>
<rect x="202" y="543" width="1" height="14" fill="#ff0000"/>
<rect x="203" y="546" width="1" height="11" fill="#ff0000"/>
<rect x="207" y="439" width="1" height="118" fill="#ff0000"/>
<rect x="208" y="439" width="1" height="118" fill="#4d4dff"/>
<rect x="209" y="439" width="1" height="118" fill="#9494ff"/>
<rect x="208" y="492" width="1" height="65" fill="#780a8c"/>
<rect x="209" y="492" width="1" height="65" fill="#0000ff"/>
<rect x="214" y="537" width="1" height="20" fill="#ffc0c0"/>
<rect x="220" y="439" width="1" height="118" fill="#5a1090"/>
<rect x="221" y="439" width="1" height="118" fill="#c0c0ff"/>
<rect x="219" y="495" width="1" height="62" fill="#ff9090"/>
<rect x="223" y="555" width="1" height="2" fill="#ffc0c0"/>
<rect x="224" y="439" width="1" height="118" fill="#c0c0ff"/>
<rect x="225" y="439" width="1" height="118" fill="#9494ff"/>
<rect x="225" y="467" width="1" height="90" fill="#0000ff"/>
<rect x="226" y="531" width="1" height="26" fill="#0000ff"/>
<rect x="227" y="439" width="1" height="118" fill="#9494ff"/>
<rect x="227" y="470" width="1" height="87" fill="#0000ff"/>
<rect x="228" y="439" width="1" height="118" fill="#9494ff"/>
<rect x="229" y="439" width="1" height="118" fill="#c0c0ff"/>
<rect x="230" y="439" width="1" height="118" fill="#9494ff"/>
<rect x="230" y="476" width="1" height="81" fill="#0000ff"/>
<rect x="231" y="505" width="1" height="52" fill="#0000ff"/>
<rect x="232" y="439" width="1" height="118" fill="#0000ff"/>
<rect x="233" y="439" width="1" height="118" fill="#c0c0ff"/>
<rect x="236" y="439" width="1" height="118" fill="#9494ff"/>
<rect x="237" y="479" width="1" height="78" fill="#0000ff"/>
<rect x="236" y="546" width="1" height="11" fill="#4d4dff"/>
<rect x="239" y="451" width="1" height="106" fill="#ffc0c0"/>
<rect x="240" y="451" width="1" height="106" fill="#ffc0c0"/>
<rect x="240" y="505" width="1" height="52" fill="#ff0000"/>
<rect x="246" y="555" width="1" height="2" fill="#ff0000"/>
<rect x="256" y="515" width="1" height="42" fill="#9494ff"/>
<rect x="258" y="533" width="1" height="24" fill="#780a8c"/>
<rect x="258" y="549" width="1" height="8" fill="#0000ff"/>
<rect x="260" y="439" width="1" height="118" fill="#9494ff"/>
<rect x="260" y="470" width="1" height="87" fill="#0000ff"/>
<rect x="265" y="549" width="1" height="8" fill="#9494ff"/>
<rect x="267" y="496" width="1" height="61" fill="#9494ff"/>
<rect x="267" y="546" width="1" height="11" fill="#0000ff"/>
<rect x="269" y="466" width="1" height="91" fill="#ff9090"/>
<rect x="270" y="439" width="1" height="118" fill="#2a0090"/>
<rect x="271" y="439" width="1" height="118" fill="#4d4dff"/>
<rect x="271" y="454" width="1" height="103" fill="#0000ff"/>
<rect x="270" y="500" width="1" height="57" fill="#0000ff"/>
<rect x="273" y="517" width="1" height="40" fill="#0000ff"/>
<rect x="274" y="470" width="1" height="87" fill="#c0c0ff"/>
<rect x="275" y="439" width="1" height="118" fill="#ffc0c0"/>
<rect x="276" y="439" width="1" height="118" fill="#ff9090"/>
<rect x="276" y="476" width="1" height="81" fill="#ff0000"/>
<rect x="282" y="521" width="1" height="36" fill="#4d4dff"/>
<rect x="284" y="555" width="1" height="2" fill="#0000ff"/>
<rect x="287" y="530" width="1" height="27" fill="#0000ff"/>
<rect x="288" y="517" width="1" height="40" fill="#ff0000"/>
<rect x="289" y="473" width="1" height="84" fill="#ff4040"/>
<rect x="289" y="541" width="1" height="16" fill="#780a8c"/>
<rect x="290" y="470" width="1" height="87" fill="#9494ff"/>
<rect x="305" y="505" width="1" height="52" fill="#c0c0ff"/>
<rect x="305" y="533" width="1" height="24" fill="#9494ff"/>
<rect x="308" y="439" width="1" height="118" fill="#ff0000"/>
<rect x="309" y="439" width="1" height="118" fill="#ff9090"/>
<rect x="309" y="454" width="1" height="103" fill="#ff0000"/>
<rect x="310" y="502" width="1" height="55" fill="#4d4dff"/>
<rect x="310" y="530" width="1" height="27" fill="#0000ff"/>
<rect x="310" y="492" width="1" height="65" fill="#ff0000"/>
<rect x="312" y="470" width="1" height="87" fill="#4d4dff"/>
<rect x="313" y="537" width="1" height="20" fill="#0000ff"/>
<rect x="318" y="439" width="1" height="118" fill="#ff0000"/>
<rect x="319" y="439" width="1" height="118" fill="#ff0000"/>
<rect x="319" y="549" width="1" height="8" fill="#780a8c"/>
<rect x="320" y="533" width="1" height="24" fill="#9494ff"/>
<rect x="328" y="508" width="1" height="49" fill="#ff4040"/>
<rect x="329" y="524" width="1" height="33" fill="#ffc0c0"/>
<rect x="330" y="520" width="1" height="37" fill="#ff0000"/>
<rect x="331" y="515" width="1" height="42" fill="#ff0000"/>
<rect x="332" y="467" width="1" height="90" fill="#ff4040"/>
<rect x="333" y="527" width="1" height="30" fill="#ff0000"/>
<rect x="340" y="467" width="1" height="90" fill="#ffc0c0"/>
<rect x="340" y="515" width="1" height="42" fill="#ff0000"/>
<rect x="349" y="530" width="1" height="27" fill="#ffc0c0"/>
<rect x="349" y="546" width="1" height="11" fill="#ff0000"/>
<rect x="355" y="555" width="1" height="2" fill="#ffc0c0"/>
<rect x="361" y="540" width="1" height="17" fill="#ff0000"/>
<rect x="363" y="549" width="1" height="8" fill="#9494ff"/>
<rect x="364" y="549" width="1" height="8" fill="#0000ff"/>
<rect x="384" y="549" width="1" height="8" fill="#ffc0c0"/>
<rect x="384" y="555" width="1" height="2" fill="#ff0000"/>
<!-- r4L -->
<rect x="433" y="555" width="1" height="2" fill="#0000ff"/>
<rect x="483" y="538" width="1" height="19" fill="#4d4dff"/>
<rect x="483" y="548" width="1" height="9" fill="#0000ff"/>
<rect x="529" y="535" width="1" height="22" fill="#9494ff"/>
<rect x="530" y="535" width="1" height="22" fill="#c0c0ff"/>
<rect x="553" y="535" width="1" height="22" fill="#ff4040"/>
<rect x="553" y="545" width="1" height="12" fill="#ff0000"/>
<rect x="555" y="542" width="1" height="15" fill="#0000ff"/>
<rect x="556" y="549" width="1" height="8" fill="#0000ff"/>
<rect x="566" y="535" width="1" height="22" fill="#9494ff"/>
<rect x="566" y="548" width="1" height="9" fill="#0000ff"/>
<rect x="573" y="529" width="1" height="28" fill="#9494ff"/>
<rect x="573" y="552" width="1" height="5" fill="#780a8c"/>
<rect x="586" y="555" width="1" height="2" fill="#ff9090"/>
<rect x="596" y="542" width="1" height="15" fill="#0000ff"/>
<rect x="597" y="522" width="1" height="35" fill="#4d4dff"/>
<rect x="598" y="552" width="1" height="5" fill="#0000ff"/>
<rect x="606" y="512" width="1" height="45" fill="#9494ff"/>
<rect x="606" y="535" width="1" height="22" fill="#0000ff"/>
<rect x="611" y="555" width="1" height="2" fill="#9494ff"/>
<rect x="613" y="538" width="1" height="19" fill="#ff4040"/>
<rect x="618" y="545" width="1" height="12" fill="#ff0000"/>
<rect x="620" y="552" width="1" height="5" fill="#0000ff"/>
<rect x="621" y="545" width="1" height="12" fill="#0000ff"/>
<rect x="624" y="552" width="1" height="5" fill="#ff0000"/>
<rect x="625" y="538" width="1" height="19" fill="#ff0000"/>
<rect x="629" y="528" width="1" height="29" fill="#ff0000"/>
<rect x="632" y="552" width="1" height="5" fill="#9494ff"/>
<rect x="633" y="555" width="1" height="2" fill="#0000ff"/>
<rect x="644" y="548" width="1" height="9" fill="#9494ff"/>
<rect x="644" y="555" width="1" height="2" fill="#0000ff"/>
<rect x="655" y="552" width="1" height="5" fill="#0000ff"/>
<rect x="656" y="545" width="1" height="12" fill="#0000ff"/>
<rect x="657" y="535" width="1" height="22" fill="#9494ff"/>
<rect x="659" y="555" width="1" height="2" fill="#ff9090"/>
<rect x="660" y="525" width="1" height="32" fill="#9494ff"/>
<rect x="661" y="525" width="1" height="32" fill="#c0c0ff"/>
<rect x="660" y="545" width="1" height="12" fill="#0000ff"/>
<rect x="662" y="555" width="1" height="2" fill="#9494ff"/>
</svg>
<!-- gene arrows -->
<svg style="left:0;top:0" width="685" height="609">
<polygon points="208.7,586.1 218.9,565.8 318.3,565.8 318.3,606.5 218.9,606.5" fill="#a9d18e" stroke="#3a3a3a" stroke-width="1"/>
<polygon points="482.3,565.8 594.5,565.8 604.4,586.1 594.5,606.5 482.3,606.5" fill="#a9d18e" stroke="#3a3a3a" stroke-width="1"/>
<text x="266" y="593" font-size="18" font-style="italic" text-anchor="middle" font-family="Liberation Sans" stroke="#000" stroke-width="0.25">aroK</text>
<text x="541" y="593" font-size="18" font-style="italic" text-anchor="middle" font-family="Liberation Sans" stroke="#000" stroke-width="0.25">aroL</text>
</svg>
</body></html>
